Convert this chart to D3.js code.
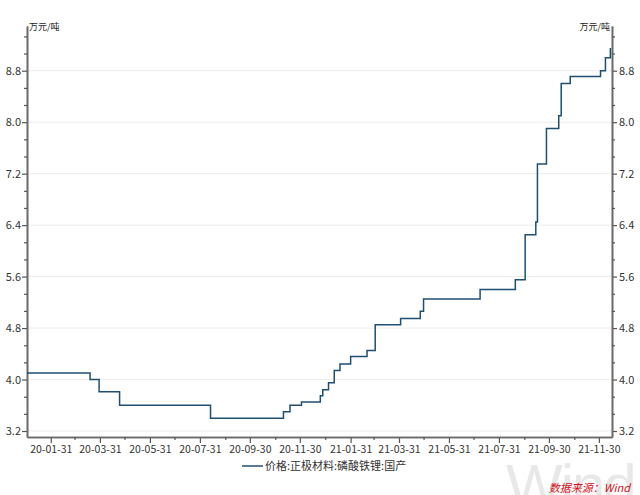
<!DOCTYPE html>
<html><head><meta charset="utf-8">
<script src="https://cdn.jsdelivr.net/npm/d3@7"></script>
<style>html,body{margin:0;padding:0;background:#fff;}svg{display:block;}</style>
</head><body>
<svg id="c" width="640" height="495"></svg>
<script>
const dates = ["2020-01-02","2020-03-19","2020-03-30","2020-04-24","2020-08-13","2020-11-10","2020-11-18","2020-12-02","2020-12-25","2020-12-28","2021-01-04","2021-01-11","2021-01-18","2021-01-31","2021-02-20","2021-03-02","2021-04-02","2021-04-26","2021-04-30","2021-07-08","2021-08-20","2021-09-01","2021-09-14","2021-09-16","2021-09-27","2021-10-12","2021-10-15","2021-10-26","2021-12-02","2021-12-08","2021-12-14","2021-12-15"];
const values = [4.10,4.00,3.81,3.60,3.40,3.50,3.60,3.65,3.75,3.84,3.95,4.14,4.24,4.36,4.45,4.85,4.95,5.06,5.25,5.40,5.55,6.25,6.45,7.35,7.90,8.10,8.60,8.71,8.80,9.00,9.14,9.14];
const yTicks = [3.2,4.0,4.8,5.6,6.4,7.2,8.0,8.8];
const xTickLabels = ["20-01-31","20-03-31","20-05-31","20-07-31","20-09-30","20-11-30","21-01-31","21-03-31","21-05-31","21-07-31","21-09-30","21-11-30"];
const seriesName = "价格:正极材料:磷酸铁锂:国产";
const unitLabel = "万元/吨";
const sourceLabel = "数据来源：Wind";

const parse = d3.timeParse("%Y-%m-%d");
const parseTick = d3.timeParse("%y-%m-%d");
const data = dates.map((d,i)=>({date:parse(d), value:values[i]}));

const svg = d3.select("#c");
const L=27, R=612, T=26, B=437;
const x = d3.scaleTime().domain([parse("2020-01-02"), parse("2021-12-16")]).range([L,R]);
const y = d3.scaleLinear().domain([3.107, 9.495]).range([B,T]);
const font = "'Noto Sans CJK SC','Noto Sans',sans-serif";

// watermark
svg.append("text").attr("x",506).attr("y",506).attr("font-family","Arial, 'Liberation Sans', sans-serif")
  .attr("font-size",60).attr("fill","#e8e8e8").attr("letter-spacing",-2).text("Wind");

// gridlines
svg.append("g").selectAll("line").data(yTicks).join("line")
  .attr("x1",L).attr("x2",R).attr("y1",d=>y(d)).attr("y2",d=>y(d))
  .attr("stroke","#ececec").attr("stroke-width",1);

// minor y ticks
const minorY = [];
for (let i=0;i<yTicks.length;i++){ for(let k=-2;k<=2;k++){ const v=+(yTicks[i]+k*0.8/3).toFixed(4); if(k!==0 && v>3.107 && v<9.495) minorY.push(v);} }
const minorYu = Array.from(new Set(minorY.map(v=>v.toFixed(3)))).map(Number);

// left axis
const gl = svg.append("g").attr("transform",`translate(${L},0)`);
gl.call(d3.axisLeft(y).tickValues(yTicks).tickFormat(d3.format(".1f")).tickSize(5).tickSizeOuter(0));
gl.append("g").call(d3.axisLeft(y).tickValues(minorYu).tickFormat("").tickSize(3).tickSizeOuter(0));
const gr = svg.append("g").attr("transform",`translate(${R},0)`);
gr.call(d3.axisRight(y).tickValues(yTicks).tickFormat(d3.format(".1f")).tickSize(5).tickSizeOuter(0));
gr.append("g").call(d3.axisRight(y).tickValues(minorYu).tickFormat("").tickSize(3).tickSizeOuter(0));

// bottom axis
const majorX = xTickLabels.map(parseTick);
const minorX = d3.timeMonth.range(parse("2020-01-01"), parse("2022-01-01")).map(d=>d3.timeDay.offset(d3.timeMonth.offset(d,1),-1))
  .filter(d=>d>=x.domain()[0] && d<=x.domain()[1] && !majorX.some(m=>+m===+d));
const gb = svg.append("g").attr("transform",`translate(0,${B})`);
gb.call(d3.axisBottom(x).tickValues(majorX).tickFormat(d3.timeFormat("%y-%m-%d")).tickSize(6).tickSizeOuter(0));
gb.append("g").call(d3.axisBottom(x).tickValues(minorX).tickFormat("").tickSize(3).tickSizeOuter(0));

svg.selectAll(".domain").attr("stroke","#6a6a6a").attr("stroke-width",1.6);
svg.selectAll(".tick line").attr("stroke","#555").attr("stroke-width",1.2);
svg.selectAll(".tick text").attr("font-family",font).attr("font-size",11).attr("fill","#333");
gl.selectAll(".tick text").attr("x",-6);
gr.selectAll(".tick text").attr("x",7);
gb.selectAll(".tick text").attr("y",9).attr("font-size",10.5);

// line
svg.append("path").datum(data)
  .attr("d", d3.line().x(d=>x(d.date)).y(d=>y(d.value)).curve(d3.curveStepAfter))
  .attr("fill","none").attr("stroke","#1f4f70").attr("stroke-width",1.5);

// unit labels
svg.append("text").attr("x",L+2).attr("y",30).attr("font-family",font).attr("font-size",9).attr("fill","#222").text(unitLabel);
svg.append("text").attr("x",R-2).attr("y",30).attr("text-anchor","end").attr("font-family",font).attr("font-size",9).attr("fill","#222").text(unitLabel);

// legend
svg.append("line").attr("x1",242).attr("x2",263).attr("y1",466).attr("y2",466).attr("stroke","#1f4f70").attr("stroke-width",1.5);
svg.append("text").attr("x",265).attr("y",470).attr("font-family",font).attr("font-size",11).attr("fill","#333").text(seriesName);

// source
svg.append("text").attr("x",630).attr("y",492).attr("text-anchor","end").attr("font-family",font)
  .attr("font-size",11).attr("font-style","italic").attr("fill","#d0101a").text(sourceLabel);
</script>
</body></html>
